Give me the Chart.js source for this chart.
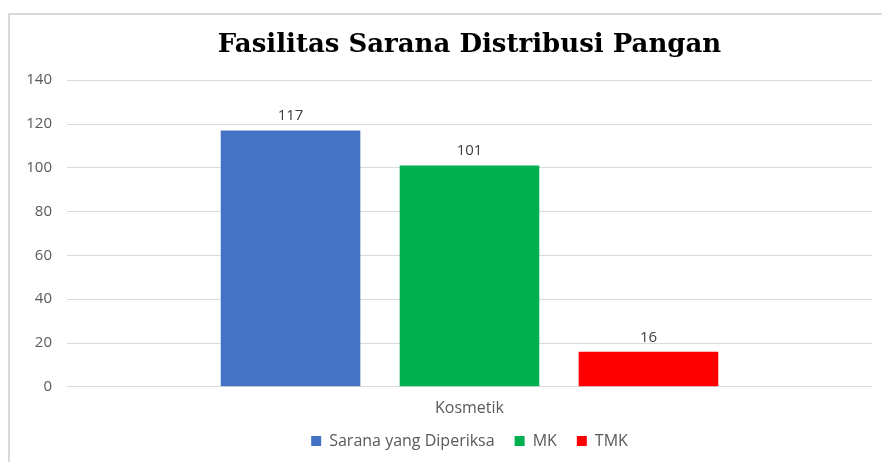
<!DOCTYPE html>
<html>
<head>
<meta charset="utf-8">
<script src="https://cdn.jsdelivr.net/npm/chart.js@4"></script>
<style>
  body { margin: 0; background: #fff; }
  #bingkai { position: absolute; left: 8px; top: 13px; width: 900px; height: 500px;
             border-left: 2px solid #d9d9d9; border-top: 2px solid #d9d9d9; }
  #wadah { position: absolute; left: 0; top: 0; width: 882px; height: 462px; }
</style>
</head>
<body>
<div id="bingkai"></div>
<div id="wadah"><canvas id="grafik" width="882" height="462"></canvas></div>
<script>
// Data grafik
const kategori = ['Kosmetik'];
const namaSeri = ['Sarana yang Diperiksa', 'MK', 'TMK'];
const saranaDiperiksa = [117];
const mk = [101];
const tmk = [16];
const sumbuYMaks = 140;
const sumbuYLangkah = 20;

const warnaSeri = ['#4472C4', '#00B050', '#FF0000'];
const hurufUmum = '"Open Sans", "Noto Sans", sans-serif';

// Plugin kecil untuk menulis nilai di atas batang
const labelBatang = {
    id: 'labelBatang',
    afterDatasetsDraw(chart) {
        const ctx = chart.ctx;
        ctx.save();
        ctx.font = '15px ' + hurufUmum;
        ctx.fillStyle = '#404040';
        ctx.textAlign = 'center';
        ctx.textBaseline = 'bottom';
        chart.data.datasets.forEach((ds, i) => {
            chart.getDatasetMeta(i).data.forEach((batang, j) => {
                ctx.fillText(ds.data[j], batang.x, batang.y - 7);
            });
        });
        ctx.restore();
    }
};

const ctx = document.getElementById('grafik').getContext('2d');
const grafik = new Chart(ctx, {
    type: 'bar',
    data: {
        labels: kategori,
        datasets: [saranaDiperiksa, mk, tmk].map((nilai, i) => ({
            label: namaSeri[i],
            data: nilai,
            backgroundColor: warnaSeri[i],
            barPercentage: 0.78,
            categoryPercentage: 0.667
        }))
    },
    options: {
        responsive: false,
        animation: false,
        layout: { padding: { top: 30, right: 10, bottom: 3, left: 0 } },
        plugins: {
            title: {
                display: true,
                fullSize: false,
                text: 'Fasilitas Sarana Distribusi Pangan',
                color: '#000',
                font: { family: '"DejaVu Serif", serif', size: 26, weight: 'bold' },
                padding: { top: 0, bottom: 19 }
            },
            legend: {
                position: 'bottom',
                fullSize: false,
                labels: {
                    boxWidth: 10,
                    boxHeight: 10,
                    padding: 20,
                    color: '#595959',
                    font: { family: hurufUmum, size: 16 }
                }
            },
            tooltip: { enabled: false }
        },
        scales: {
            y: {
                min: 0,
                max: sumbuYMaks,
                ticks: {
                    stepSize: sumbuYLangkah,
                    color: '#595959',
                    padding: 15,
                    font: { family: hurufUmum, size: 15 }
                },
                grid: { color: '#d9d9d9', drawTicks: false },
                border: { display: false },
                afterFit(scale) { scale.width = 67; }
            },
            x: {
                ticks: {
                    color: '#595959',
                    padding: 12,
                    font: { family: hurufUmum, size: 16 }
                },
                grid: { display: false, drawTicks: false },
                border: { display: false },
                afterFit(scale) { scale.height -= 17; }
            }
        }
    },
    plugins: [labelBatang]
});
</script>
</body>
</html>
